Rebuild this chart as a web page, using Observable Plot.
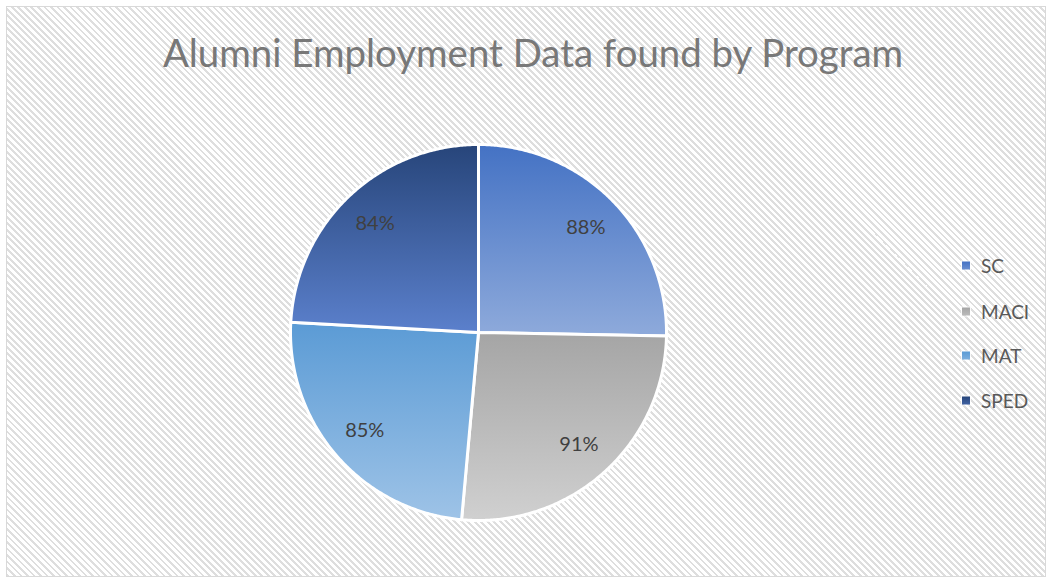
<!DOCTYPE html>
<html>
<head>
<meta charset="utf-8">
<script src="https://cdn.jsdelivr.net/npm/d3@7"></script>
<script src="https://cdn.jsdelivr.net/npm/@observablehq/plot@0.6"></script>
<style>
  html, body { margin: 0; padding: 0; background: #fff; }
  #chart {
    position: relative; width: 1051px; height: 581px; overflow: hidden;
    background: #fff;
  }
  #frame {
    position: absolute; left: 6px; top: 6px; width: 1038px; height: 569px;
    border: 1.5px solid #d9d9d9;
    background: repeating-linear-gradient(45deg, #dedede 0 2px, #ffffff 2px 4.6px);
  }
  #title {
    position: absolute; left: 0; top: 29px; width: 1066px; text-align: center;
    font-family: Lato, "Open Sans", sans-serif; font-size: 38.4px; color: #787878;
    white-space: nowrap;
  }
  #plot { position: absolute; left: 0; top: 0; }
  #legend { position: absolute; left: 962px; top: 0; font-family: Lato, "Open Sans", sans-serif; font-size: 19px; color: #595959; }
  .item { position: absolute; left: 0; display: flex; align-items: center; white-space: nowrap; transform: translateY(-50%); }
  .sw { width: 8px; height: 8px; margin-right: 11px; box-shadow: 0 0 0 1px rgba(255,255,255,0.8); }
</style>
</head>
<body>
<div id="chart">
  <div id="frame"></div>
  <div id="title"></div>
  <div id="plot"></div>
  <div id="legend"></div>
</div>
<script>
// ---- data ----
const title = "Alumni Employment Data found by Program";
const programs = ["SC", "MACI", "MAT", "SPED"];
const rates = [88, 91, 85, 84];
const rateLabels = ["88%", "91%", "85%", "84%"];

// ---- styles ----
const gradTop = ["#4472c4", "#a5a5a5", "#5b9bd5", "#27457a"];
const gradBottom = ["#8eaadb", "#d0d0d0", "#9ec3e7", "#5b80cc"];
const legendRowY = [265, 311, 355, 400];

// ---- layout ----
const W = 1051, H = 581;
const cx = 478, cy = 332, R = 188;

document.getElementById("title").textContent = title;

// pie geometry from the data (angles clockwise from 12 o'clock)
const arcs = d3.pie().sort(null).value(d => d.rate)(
  programs.map((p, i) => ({program: p, rate: rates[i], label: rateLabels[i], idx: i}))
);

const slicePts = [];
const labelPts = [];
for (const a of arcs) {
  const pts = [{program: a.data.program, x: 0, y: 0}];
  const n = Math.max(2, Math.ceil((a.endAngle - a.startAngle) / (Math.PI / 360)));
  for (let k = 0; k <= n; k++) {
    const t = a.startAngle + (a.endAngle - a.startAngle) * k / n;
    pts.push({program: a.data.program, x: Math.sin(t), y: Math.cos(t)});
  }
  pts.push({program: a.data.program, x: 0, y: 0});
  slicePts.push(pts);
  const m = (a.startAngle + a.endAngle) / 2;
  labelPts.push({label: a.data.label, x: 0.8 * Math.sin(m), y: 0.8 * Math.cos(m)});
}

const plot = Plot.plot({
  width: W, height: H,
  margin: 0,
  style: {background: "transparent", overflow: "visible"},
  x: {domain: [-cx / R, (W - cx) / R], axis: null},
  y: {domain: [(cy - H) / R, cy / R], axis: null},
  marks: [
    ...slicePts.map((pts, i) => Plot.line(pts, {
      x: "x", y: "y",
      fill: `url(#grad-${programs[i]})`,
      stroke: "#ffffff", strokeWidth: 3, strokeLinejoin: "round"
    })),
    Plot.text(labelPts, {
      x: "x", y: "y", text: "label",
      fontFamily: "Lato, 'Open Sans', sans-serif", fontSize: 20, fill: "#404040"
    })
  ]
});

// gradients for the slices
const defs = d3.select(plot).insert("defs", ":first-child");
programs.forEach((p, i) => {
  const g = defs.append("linearGradient").attr("id", `grad-${p}`)
    .attr("x1", 0).attr("y1", 0).attr("x2", 0).attr("y2", 1);
  g.append("stop").attr("offset", "0%").attr("stop-color", gradTop[i]);
  g.append("stop").attr("offset", "100%").attr("stop-color", gradBottom[i]);
});
document.getElementById("plot").appendChild(plot);

// legend
const legend = d3.select("#legend");
programs.forEach((p, i) => {
  const it = legend.append("div").attr("class", "item").style("top", legendRowY[i] + "px");
  it.append("div").attr("class", "sw")
    .style("background", `linear-gradient(${gradTop[i]}, ${d3.interpolateRgb(gradTop[i], gradBottom[i])(0.5)})`);
  it.append("span").text(p);
});
</script>
</body>
</html>
